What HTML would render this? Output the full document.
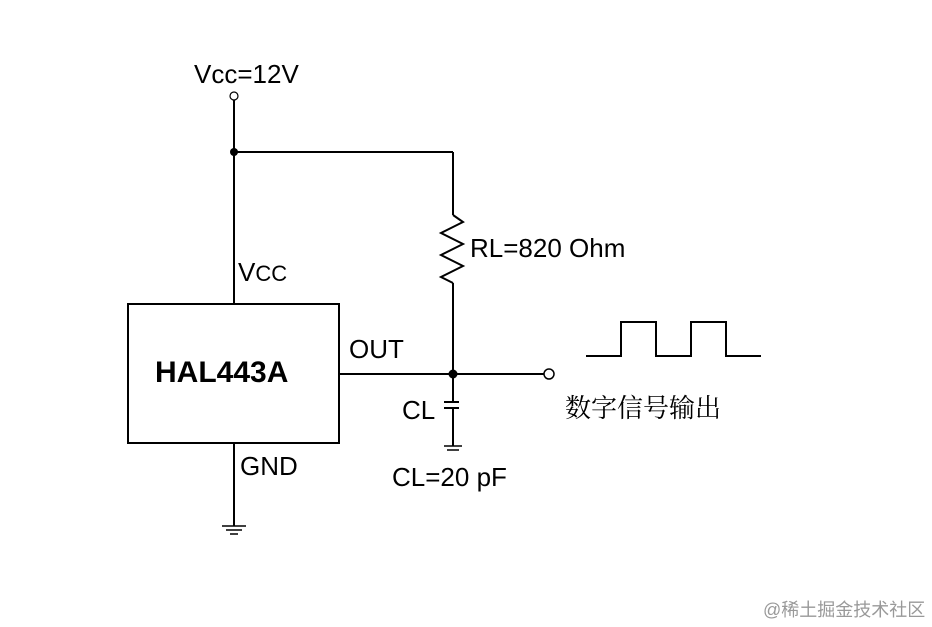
<!DOCTYPE html>
<html><head><meta charset="utf-8"><style>body{margin:0;background:#fff}svg{display:block}</style></head>
<body><svg width="932" height="627" viewBox="0 0 932 627" xmlns="http://www.w3.org/2000/svg" font-family="Liberation Sans, Arial, sans-serif">
<g stroke="#000" stroke-width="2" fill="none">
<line x1="234" y1="100" x2="234" y2="304"/>
<line x1="234" y1="152" x2="453" y2="152"/>
<line x1="453" y1="152" x2="453" y2="215"/>
<polyline points="453,215 463,222 441,233 463,244 441,255 463,266 441,277 453,283"/>
<line x1="453" y1="283" x2="453" y2="402"/>
<rect x="128" y="304" width="211" height="139"/>
<line x1="339" y1="374" x2="544" y2="374"/>
<line x1="444" y1="402" x2="459" y2="402"/>
<line x1="444" y1="408" x2="459" y2="408"/>
<line x1="453" y1="408" x2="453" y2="446"/>
<line x1="444" y1="446" x2="462" y2="446" stroke-width="1.5"/>
<line x1="447" y1="450" x2="459" y2="450" stroke-width="1.5"/>
<line x1="234" y1="443" x2="234" y2="526"/>
<line x1="222" y1="526" x2="246" y2="526" stroke-width="1.5"/>
<line x1="226" y1="530" x2="242" y2="530" stroke-width="1.5"/>
<line x1="230" y1="534" x2="238" y2="534" stroke-width="1.5"/>
<polyline points="586,356 621,356 621,322 656,322 656,356 691,356 691,322 726,322 726,356 761,356"/>
</g>
<circle cx="234" cy="96" r="4" fill="#fff" stroke="#000" stroke-width="1.2"/>
<circle cx="549" cy="374" r="5" fill="#fff" stroke="#000" stroke-width="1.5"/>
<circle cx="234" cy="152" r="4" fill="#000"/>
<circle cx="453" cy="374" r="4.5" fill="#000"/>
<g fill="#000" font-size="26">
<text x="194" y="83">Vcc=12V</text>
<text x="238" y="281">V<tspan font-size="22">CC</tspan></text>
<text x="470" y="257">RL=820 Ohm</text>
<text x="349" y="358">OUT</text>
<text x="402" y="419">CL</text>
<text x="240" y="475">GND</text>
<text x="392" y="486">CL=20 pF</text>
<text x="155" y="382" font-weight="bold" font-size="30">HAL443A</text>
<text x="565" y="417" font-family="Noto Serif CJK SC, serif" font-size="26">数字信号输出</text>
<text x="763" y="616" font-family="Liberation Sans, Noto Sans CJK SC, sans-serif" font-size="18" fill="#999">@稀土掘金技术社区</text>
</g>
</svg></body></html>
